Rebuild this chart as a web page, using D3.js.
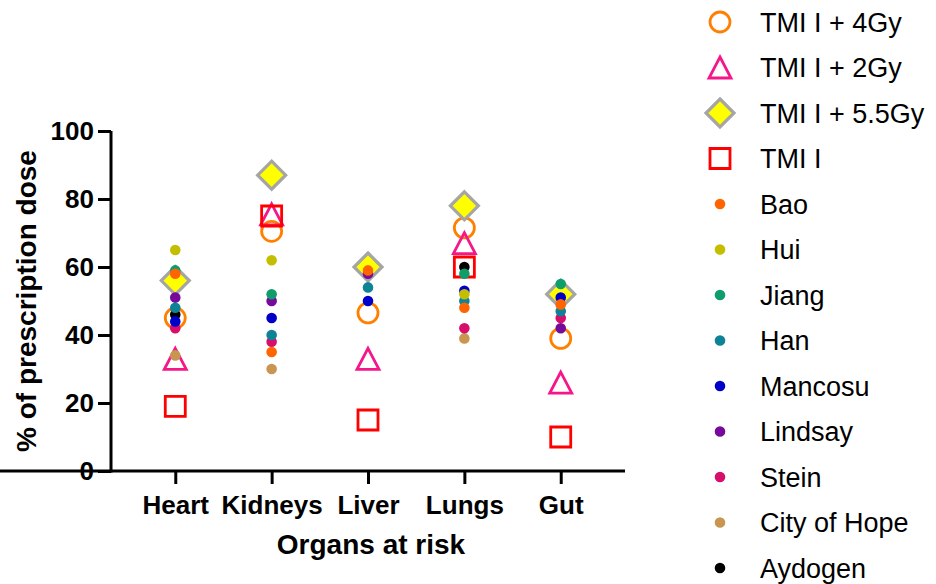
<!DOCTYPE html>
<html>
<head>
<meta charset="utf-8">
<script src="https://cdn.jsdelivr.net/npm/d3@7"></script>
<style>
  html, body { margin: 0; padding: 0; background: #fff; }
  svg { display: block; font-family: Arial, "Liberation Sans", sans-serif; }
</style>
</head>
<body>
<div id="chart"></div>
<script>
// ===== Data =====
const organs = ["Heart", "Kidneys", "Liver", "Lungs", "Gut"];
const yTicks = [0, 20, 40, 60, 80, 100];

// planned TMI series (open markers)
const tmi4Gy   = [45, 70.5, 46.5, 71.5, 39];
const tmi2Gy   = [33, 75.5, 33, 67, 26];
const tmi55Gy  = [56, 87, 60, 78, 52];
const tmiOnly  = [19, 75, 15, 60, 10];

// literature values (small dots), null = not reported
const bao        = [58, 35, 59, 48, 49];
const hui        = [65, 62, null, 52, null];
const jiang      = [59, 52, null, 58, 55];
const han        = [48, 40, 54, 50, 47];
const mancosu    = [44, 45, 50, 53, 51];
const lindsay    = [51, 50, 58, null, 42];
const stein      = [42, 38, null, 42, 45];
const cityOfHope = [34, 30, null, 39, null];
const aydogen    = [46, null, null, 60, null];

const series = [
  {name: "TMI I + 4Gy",   values: tmi4Gy,  shape: "circle",   stroke: "#FF8000", fill: "none"},
  {name: "TMI I + 2Gy",   values: tmi2Gy,  shape: "triangle", stroke: "#F5178A", fill: "none"},
  {name: "TMI I + 5.5Gy", values: tmi55Gy, shape: "diamond",  stroke: "#A5A5A5", fill: "#FFFF00"},
  {name: "TMI I",         values: tmiOnly, shape: "square",   stroke: "#FF0000", fill: "none"},
  {name: "Bao",          values: bao,        shape: "dot", fill: "#FF6400"},
  {name: "Hui",          values: hui,        shape: "dot", fill: "#C4BE00"},
  {name: "Jiang",        values: jiang,      shape: "dot", fill: "#0F9D6B"},
  {name: "Han",          values: han,        shape: "dot", fill: "#0E8396"},
  {name: "Mancosu",      values: mancosu,    shape: "dot", fill: "#0000C8"},
  {name: "Lindsay",      values: lindsay,    shape: "dot", fill: "#760A9A"},
  {name: "Stein",        values: stein,      shape: "dot", fill: "#D80E6C"},
  {name: "City of Hope", values: cityOfHope, shape: "dot", fill: "#C89650"},
  {name: "Aydogen",      values: aydogen,    shape: "dot", fill: "#000000"}
];

// ===== Layout =====
const W = 936, H = 584;
const axisX = 111, axisY = 471, axisTop = 131, axisRight = 625;

const svg = d3.select("#chart").append("svg")
  .attr("width", W).attr("height", H);

const x = d3.scalePoint().domain(organs).range([axisX, axisRight]).padding(0.667);
const y = d3.scaleLinear().domain([0, 100]).range([axisY, axisTop]);

// marker path builder
function markerPath(shape, cx, cy){
  const p = d3.path();
  if (shape === "circle"){
    p.arc(cx, cy, 10, 0, 2 * Math.PI);
  } else if (shape === "triangle"){
    p.moveTo(cx, cy - 10.5); p.lineTo(cx + 11, cy + 10.5); p.lineTo(cx - 11, cy + 10.5); p.closePath();
  } else if (shape === "diamond"){
    p.moveTo(cx, cy - 14); p.lineTo(cx + 14, cy); p.lineTo(cx, cy + 14); p.lineTo(cx - 14, cy); p.closePath();
  } else if (shape === "square"){
    p.rect(cx - 10, cy - 10, 20, 20);
  } else {
    p.arc(cx, cy, 5.3, 0, 2 * Math.PI);
  }
  return p.toString();
}

function styleMarker(sel, s){
  sel.attr("fill", s.fill)
    .attr("stroke", s.shape === "dot" ? "none" : s.stroke)
    .attr("stroke-width", s.shape === "diamond" ? 3.2 : 2.8);
}

// ===== Axes =====
const yAxis = svg.append("g")
  .attr("transform", `translate(${axisX},0)`)
  .call(d3.axisLeft(y).tickValues(yTicks).tickSize(13).tickPadding(4));
const xAxis = svg.append("g")
  .attr("transform", `translate(0,${axisY})`)
  .call(d3.axisBottom(x).tickSize(13).tickPadding(12));

[yAxis, xAxis].forEach(g => {
  g.select(".domain").attr("stroke", "#000").attr("stroke-width", 3);
  g.selectAll(".tick line").attr("stroke", "#000").attr("stroke-width", 3);
  g.selectAll(".tick text")
    .attr("fill", "#000")
    .style("font-size", "26px")
    .style("font-weight", "bold");
});
// axis line without the outer ticks
yAxis.select(".domain").attr("d", `M0,${axisY + 1.5}V${axisTop}`);
xAxis.select(".domain").attr("d", `M-1.5,0H${axisRight}`);

svg.append("text")
  .attr("x", (axisX + axisRight) / 2 + 3).attr("y", 554)
  .attr("text-anchor", "middle")
  .style("font-size", "28px").style("font-weight", "bold")
  .text("Organs at risk");

svg.append("text")
  .attr("transform", `translate(36,${(axisY + axisTop) / 2}) rotate(-90)`)
  .attr("text-anchor", "middle")
  .style("font-size", "28px").style("font-weight", "bold")
  .text("% of prescription dose");

// ===== Points: open markers first, then dots in reverse legend order =====
const plot = svg.append("g");
const openSeries = series.filter(s => s.shape !== "dot");
const dotSeries = series.filter(s => s.shape === "dot").reverse();
openSeries.concat(dotSeries).forEach(s => {
  s.values.forEach((v, i) => {
    if (v === null) return;
    plot.append("path")
      .attr("d", markerPath(s.shape, x(organs[i]), y(v)))
      .call(styleMarker, s);
  });
});

// ===== Legend =====
const legend = svg.append("g");
series.forEach((s, i) => {
  const cy = 22 + i * 45.5;
  legend.append("path")
    .attr("d", markerPath(s.shape, 720, cy))
    .call(styleMarker, s);
  legend.append("text")
    .attr("x", 760).attr("y", cy)
    .attr("dy", "0.36em")
    .style("font-size", "27px")
    .text(s.name);
});
</script>
</body>
</html>
